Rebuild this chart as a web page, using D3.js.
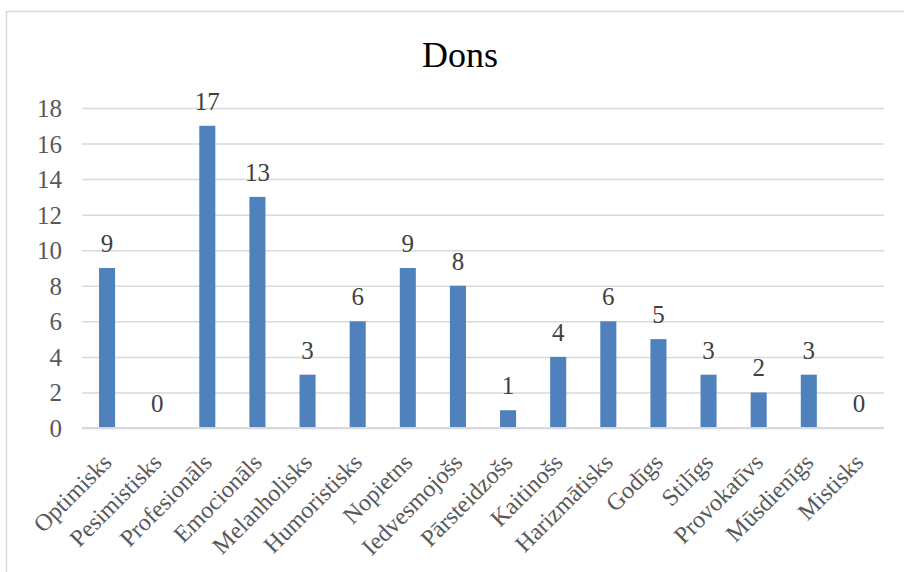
<!DOCTYPE html>
<html>
<head>
<meta charset="utf-8">
<script src="https://cdn.jsdelivr.net/npm/d3@7"></script>
<style>
  html, body { margin: 0; padding: 0; background: #fff; }
  svg { display: block; }
</style>
</head>
<body>
<script>
const title = "Dons";
const categories = ["Optimisks", "Pesimistisks", "Profesionāls", "Emocionāls", "Melanholisks", "Humoristisks", "Nopietns", "Iedvesmojošs", "Pārsteidzošs", "Kaitinošs", "Harizmātisks", "Godīgs", "Stilīgs", "Provokatīvs", "Mūsdienīgs", "Mistisks"];
const values = [9, 0, 17, 13, 3, 6, 9, 8, 1, 4, 6, 5, 3, 2, 3, 0];
const yTicks = [0, 2, 4, 6, 8, 10, 12, 14, 16, 18];

const W = 904, H = 572;
const margin = { left: 82, right: 20, top: 108, bottom: 144 };
const plotW = 884 - margin.left;
const plotH = 428 - margin.top;
const serif = "'Liberation Serif', Cambria, serif";

const svg = d3.select("body").append("svg").attr("width", W).attr("height", H);

// chart frame
svg.append("rect").attr("x", 6.5).attr("y", 11.5).attr("width", W + 10).attr("height", H + 10)
  .attr("fill", "#fff").attr("stroke", "#D9D9D9").attr("stroke-width", 1.5);

svg.append("text").attr("x", 460).attr("y", 67).attr("text-anchor", "middle")
  .style("font-family", serif).style("font-size", "36px")
  .attr("fill", "#000").text(title);

const x = d3.scaleBand().domain(categories).range([margin.left, margin.left + plotW]).paddingInner(0.68).paddingOuter(0.34);
const y = d3.scaleLinear().domain([0, 18]).range([margin.top + plotH, margin.top]);

// gridlines
const yAxis = d3.axisLeft(y).tickValues(yTicks).tickSize(-plotW).tickFormat(d3.format("d")).tickPadding(20);
const gy = svg.append("g").attr("transform", `translate(${margin.left},0)`).call(yAxis);
gy.select(".domain").remove();
gy.selectAll(".tick line").attr("stroke", "#D9D9D9").attr("stroke-width", 1.5);
gy.selectAll(".tick text").style("font-family", serif).style("font-size", "25px")
  .attr("fill", "#595959").attr("dy", "0.34em");

// bars
svg.append("g").selectAll("rect").data(values).join("rect")
  .attr("x", (d, i) => x(categories[i]))
  .attr("width", x.bandwidth())
  .attr("y", d => y(d))
  .attr("height", d => y(0) - y(d))
  .attr("fill", "#4F81BD");

// baseline
svg.append("line").attr("x1", margin.left).attr("x2", margin.left + plotW)
  .attr("y1", y(0)).attr("y2", y(0)).attr("stroke", "#D9D9D9").attr("stroke-width", 2);

// data labels
svg.append("g").selectAll("text").data(values).join("text")
  .attr("x", (d, i) => x(categories[i]) + x.bandwidth() / 2)
  .attr("y", d => y(d) - 16)
  .attr("text-anchor", "middle")
  .style("font-family", serif).style("font-size", "25px")
  .attr("fill", "#404040").text(d => d);

// x labels
const xAxis = d3.axisBottom(x).tickSize(0).tickPadding(0);
const gx = svg.append("g").attr("transform", `translate(0,${y(0)})`).call(xAxis);
gx.select(".domain").remove();
gx.selectAll(".tick text")
  .style("font-family", serif).style("font-size", "24px")
  .attr("fill", "#595959")
  .attr("text-anchor", "end")
  .attr("dy", 0)
  .attr("transform", "translate(6,36) rotate(-45)");
</script>
</body>
</html>
